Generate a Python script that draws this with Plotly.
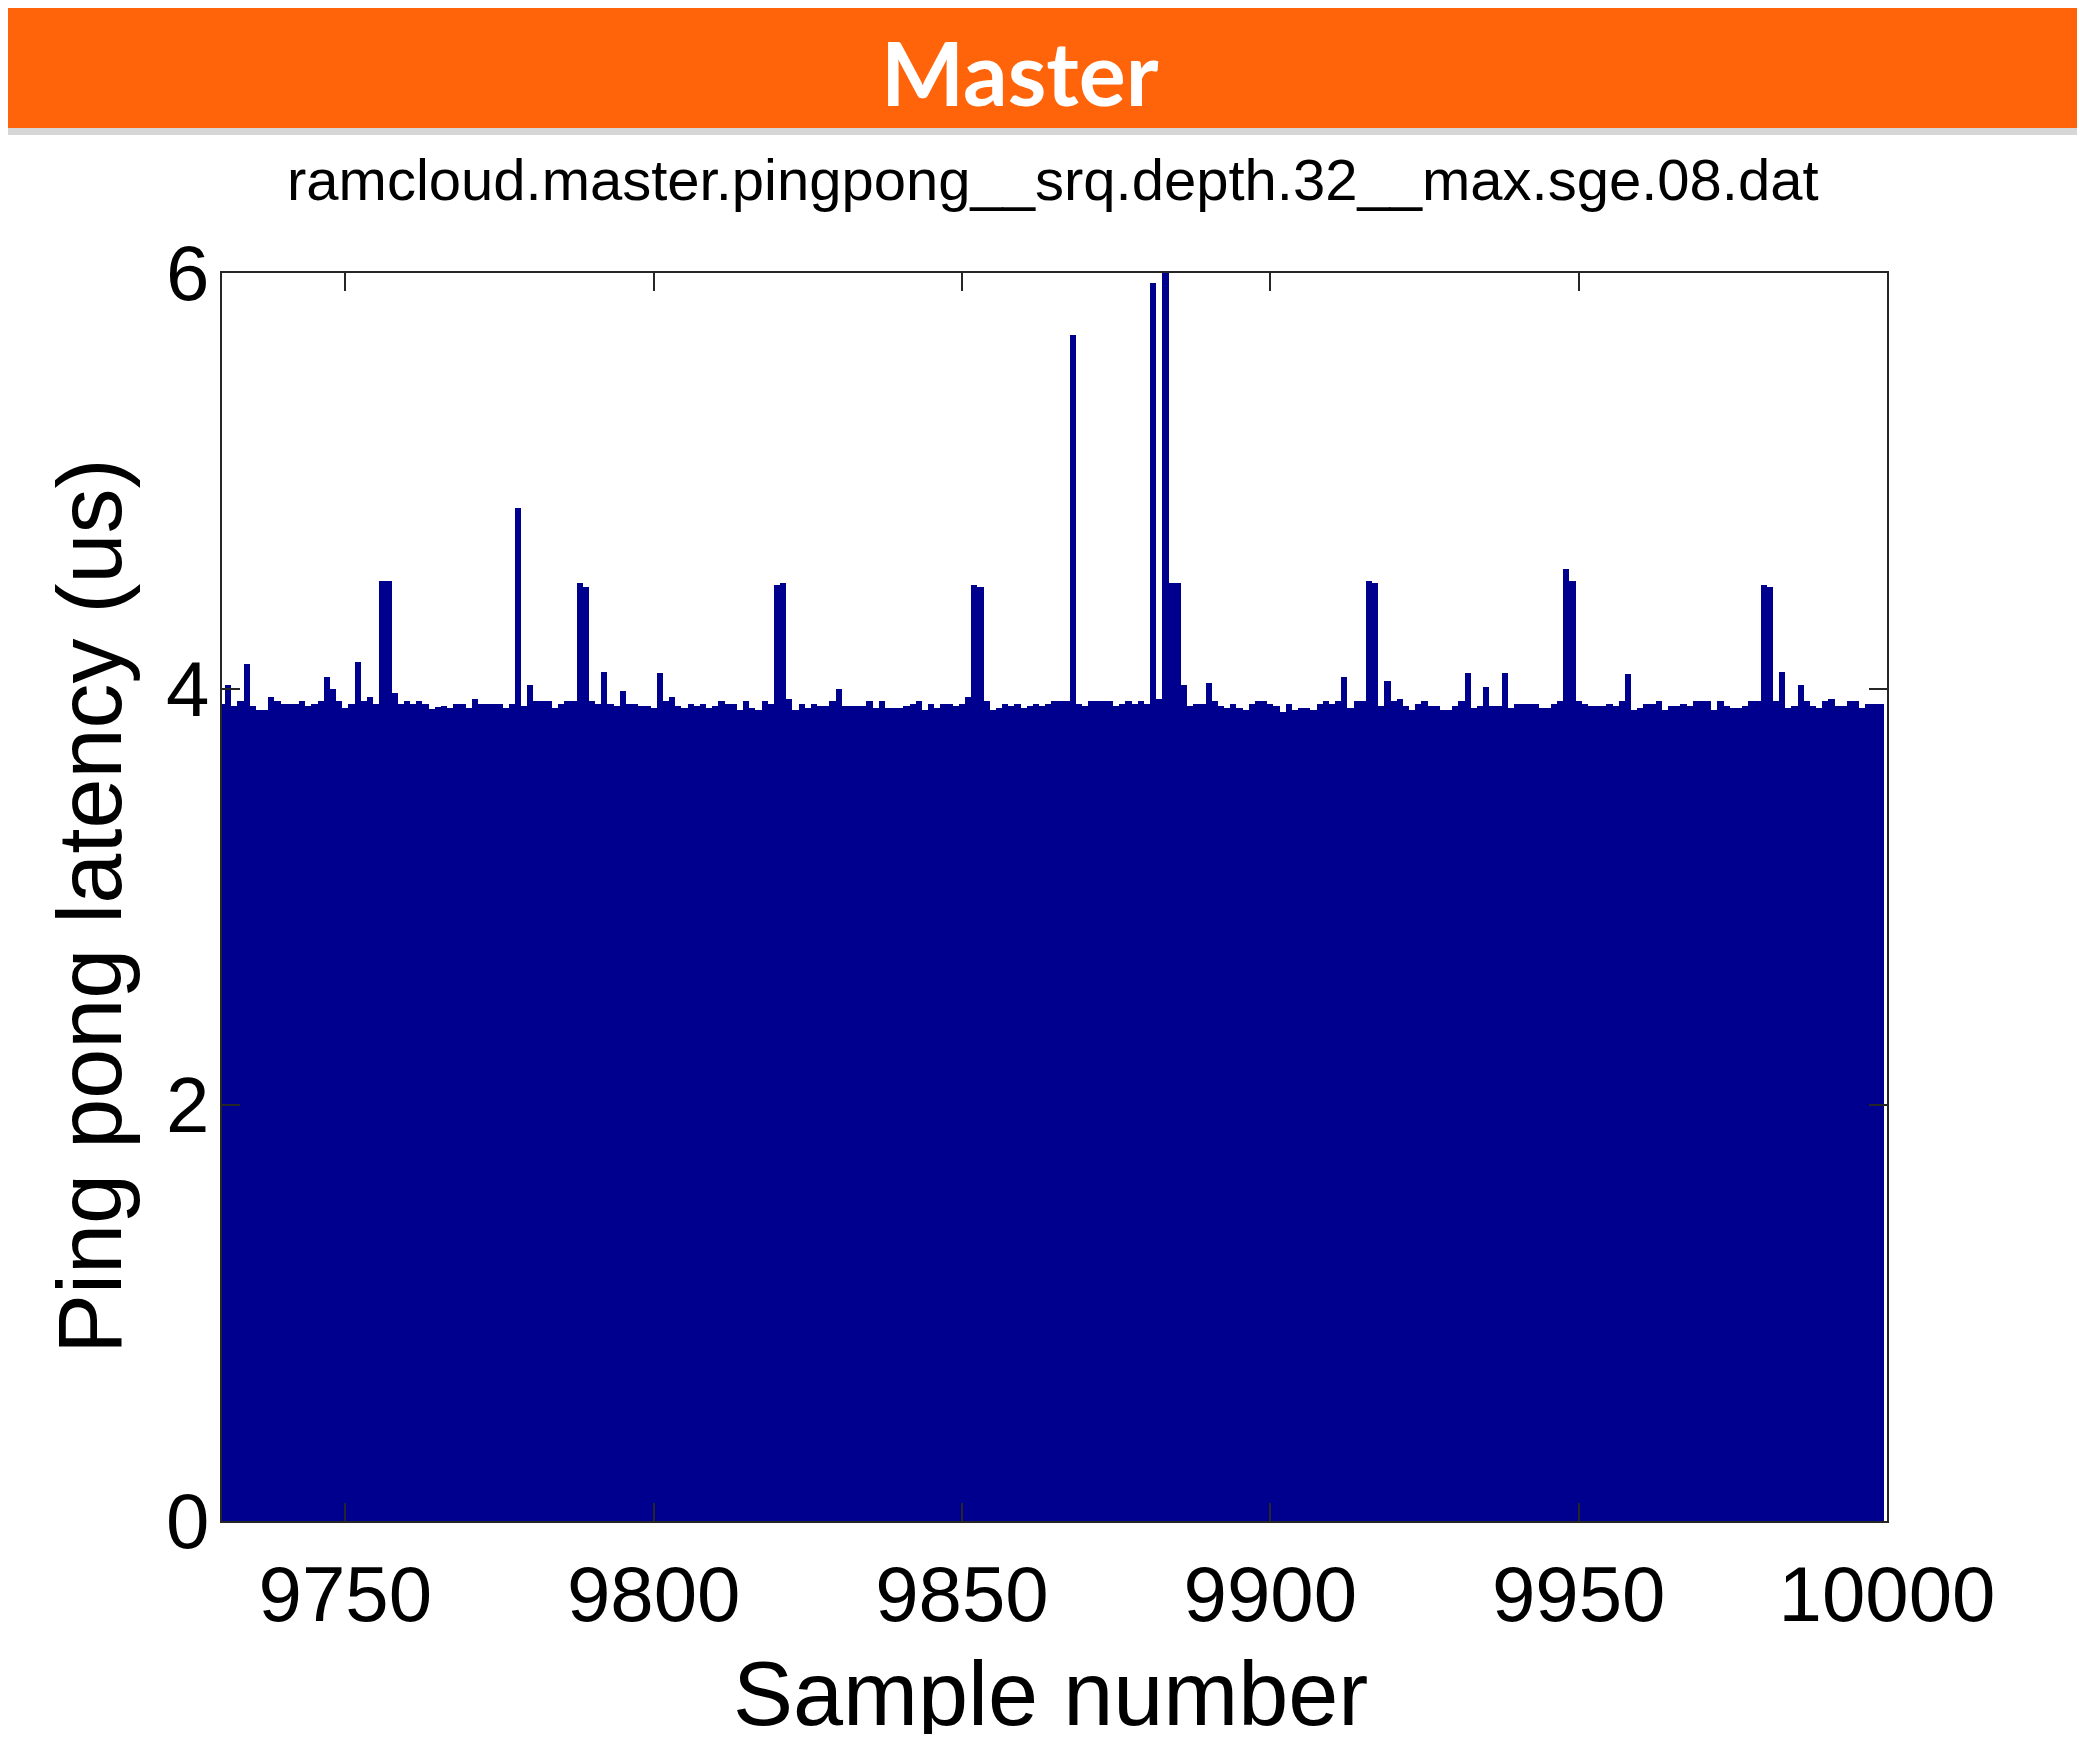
import plotly.graph_objects as go

# Sample numbers and ping-pong latency (us)
samples = list(range(9730, 10000))
latency = [
    3.93, 4.02, 3.92, 3.94, 4.12, 3.92, 3.90, 3.90, 3.96, 3.94,   # 9730-9739
    3.93, 3.93, 3.93, 3.94, 3.92, 3.93, 3.94, 4.06, 4.00, 3.94,   # 9740-9749
    3.91, 3.93, 4.13, 3.94, 3.96, 3.93, 4.52, 4.52, 3.98, 3.93,   # 9750-9759
    3.94, 3.93, 3.94, 3.93, 3.905, 3.915, 3.92, 3.91, 3.93, 3.93, # 9760-9769
    3.91, 3.95, 3.93, 3.93, 3.93, 3.93, 3.91, 3.93, 4.87, 3.92,   # 9770-9779
    4.02, 3.94, 3.94, 3.94, 3.91, 3.93, 3.94, 3.94, 4.51, 4.49,   # 9780-9789
    3.94, 3.93, 4.08, 3.93, 3.92, 3.99, 3.93, 3.93, 3.92, 3.92,   # 9790-9799
    3.91, 4.075, 3.94, 3.96, 3.92, 3.91, 3.93, 3.92, 3.93, 3.91,  # 9800-9809
    3.92, 3.94, 3.93, 3.93, 3.90, 3.94, 3.91, 3.90, 3.94, 3.93,   # 9810-9819
    4.50, 4.51, 3.95, 3.90, 3.93, 3.91, 3.93, 3.92, 3.92, 3.94,   # 9820-9829
    4.00, 3.92, 3.92, 3.92, 3.92, 3.94, 3.91, 3.94, 3.91, 3.91,   # 9830-9839
    3.91, 3.92, 3.93, 3.94, 3.90, 3.93, 3.91, 3.93, 3.93, 3.92,   # 9840-9849
    3.93, 3.96, 4.50, 4.49, 3.94, 3.90, 3.91, 3.93, 3.92, 3.93,   # 9850-9859
    3.91, 3.92, 3.93, 3.92, 3.93, 3.94, 3.94, 3.94, 5.70, 3.93,   # 9860-9869
    3.92, 3.94, 3.94, 3.94, 3.94, 3.92, 3.93, 3.94, 3.93, 3.94,   # 9870-9879
    3.93, 5.95, 3.95, 6.10, 4.51, 4.51, 4.02, 3.92, 3.93, 3.93,   # 9880-9889
    4.03, 3.94, 3.92, 3.91, 3.93, 3.91, 3.90, 3.93, 3.94, 3.94,   # 9890-9899
    3.93, 3.92, 3.89, 3.93, 3.90, 3.91, 3.91, 3.90, 3.93, 3.94,   # 9900-9909
    3.93, 3.94, 4.06, 3.91, 3.94, 3.94, 4.52, 4.51, 3.92, 4.04,   # 9910-9919
    3.94, 3.95, 3.92, 3.90, 3.93, 3.94, 3.92, 3.92, 3.90, 3.90,   # 9920-9929
    3.92, 3.94, 4.075, 3.91, 3.92, 4.01, 3.92, 3.92, 4.075, 3.91, # 9930-9939
    3.93, 3.93, 3.93, 3.93, 3.91, 3.91, 3.93, 3.94, 4.575, 4.52,  # 9940-9949
    3.94, 3.93, 3.92, 3.92, 3.92, 3.93, 3.92, 3.94, 4.07, 3.90,   # 9950-9959
    3.91, 3.93, 3.93, 3.94, 3.90, 3.92, 3.92, 3.93, 3.92, 3.94,   # 9960-9969
    3.94, 3.94, 3.90, 3.94, 3.92, 3.91, 3.91, 3.92, 3.94, 3.94,   # 9970-9979
    4.50, 4.49, 3.94, 4.08, 3.91, 3.92, 4.02, 3.94, 3.92, 3.91,   # 9980-9989
    3.94, 3.95, 3.92, 3.92, 3.94, 3.94, 3.91, 3.93, 3.93, 3.93,   # 9990-9999
]

x_ticks = [9750, 9800, 9850, 9900, 9950, 10000]
y_ticks = [0, 2, 4, 6]

header_title = "Master"
plot_title = "ramcloud.master.pingpong__srq.depth.32__max.sge.08.dat"
x_title = "Sample number"
y_title = "Ping pong latency (us)"

# The page body has an 8 px margin, so the figure sits at page (8, 8).
OFF = 8
W, H = 2085 - OFF, 1742 - 2 * OFF
# plot area in page pixels
PL, PR, PT, PB = 222, 1887, 273, 1521
L, R, T, B = PL - OFF, PR - OFF, PT - OFF, PB - OFF


def px(page_x):
    return (page_x - OFF - L) / (R - L)


def py(page_y):
    return (B - (page_y - OFF)) / (B - T)


fig = go.Figure()
fig.add_trace(go.Bar(
    x=samples, y=latency, width=1.0,
    marker=dict(color="#00008F", line=dict(width=0)),
    hoverinfo="x+y",
))

axis_common = dict(
    showgrid=False, zeroline=False, showline=True, linecolor="#262626",
    linewidth=2, mirror="ticks", ticks="inside", ticklen=18, tickwidth=2,
    tickcolor="#262626",
    tickfont=dict(family="Liberation Sans, Arial, sans-serif", size=78, color="black"),
)

fig.update_layout(
    width=W, height=H,
    margin=dict(l=L, r=W - R, t=T, b=H - B, pad=0),
    paper_bgcolor="white", plot_bgcolor="white",
    showlegend=False,
    bargap=0,
    xaxis=dict(range=[9730, 10000], tickvals=x_ticks, ticktext=[str(v) for v in x_ticks],
               ticklabelstandoff=4, **axis_common),
    yaxis=dict(range=[0, 6], tickvals=y_ticks, ticktext=[str(v) for v in y_ticks],
               ticklabelstandoff=-5, **axis_common),
    shapes=[
        dict(type="rect", xref="paper", yref="paper", x0=px(OFF), x1=px(2085), y0=py(OFF), y1=py(128),
             fillcolor="#FF640A", line=dict(width=0), layer="above"),
        dict(type="rect", xref="paper", yref="paper", x0=px(OFF), x1=px(2085), y0=py(128), y1=py(135),
             fillcolor="#D6D6D6", line=dict(width=0), layer="above"),
    ],
    annotations=[
        dict(text="<b>" + header_title + "</b>", xref="paper", yref="paper",
             x=px(1020), y=py(72), xanchor="center", yanchor="middle", showarrow=False,
             font=dict(family="Lato, Open Sans, sans-serif", size=88, color="white")),
        dict(text=plot_title, xref="paper", yref="paper",
             x=px(1053), y=py(180), xanchor="center", yanchor="middle", showarrow=False,
             font=dict(family="Liberation Sans, Arial, sans-serif", size=58, color="black")),
        dict(text=x_title, xref="paper", yref="paper",
             x=px(1050), y=py(1694), xanchor="center", yanchor="middle", showarrow=False,
             font=dict(family="Liberation Sans, Arial, sans-serif", size=90, color="black")),
        dict(text=y_title, xref="paper", yref="paper", textangle=-90,
             x=px(90), y=py(906), xanchor="center", yanchor="middle", showarrow=False,
             font=dict(family="Liberation Sans, Arial, sans-serif", size=90, color="black")),
    ],
)

fig.write_html("out.html")
